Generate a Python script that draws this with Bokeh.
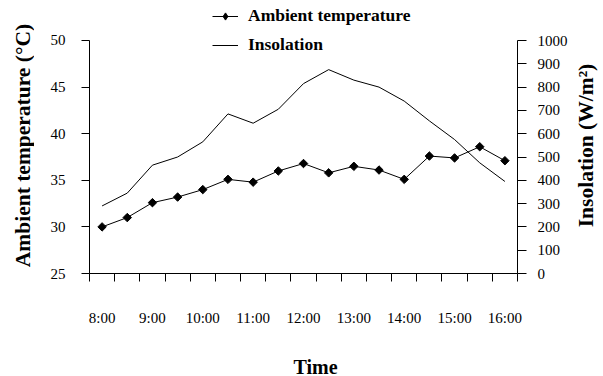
import math
from bokeh.plotting import figure
from bokeh.models import (Range1d, LinearAxis, FixedTicker, Legend, LegendItem, Label)
from bokeh.layouts import row, column
from bokeh.embed import file_html
from bokeh.resources import INLINE

# ---- data ----
hours = [8.0, 8.5, 9.0, 9.5, 10.0, 10.5, 11.0, 11.5, 12.0, 12.5,
         13.0, 13.5, 14.0, 14.5, 15.0, 15.5, 16.0]
ambient_temp = [30.0, 31.0, 32.6, 33.2, 34.0, 35.1, 34.8, 36.0, 36.8, 35.8,
                36.5, 36.1, 35.1, 37.6, 37.4, 38.6, 37.1]
insolation = [290, 345, 465, 500, 565, 685, 645, 705, 815, 875,
              830, 800, 740, 655, 575, 475, 395]
time_ticks = [8, 9, 10, 11, 12, 13, 14, 15, 16]
time_labels = ["8:00", "9:00", "10:00", "11:00", "12:00", "13:00", "14:00", "15:00", "16:00"]
temp_ticks = [25, 30, 35, 40, 45, 50]
insol_ticks = [0, 100, 200, 300, 400, 500, 600, 700, 800, 900, 1000]
left_title = "Ambient temperature (°C)"
right_title = "Insolation (W/m²)"
bottom_title = "Time"

FONT = "Liberation Serif"


def blank(w, h):
    f = figure(width=w, height=h, x_range=Range1d(0, 1), y_range=Range1d(0, 1),
               output_backend="svg", toolbar_location=None,
               min_border=0, x_axis_location=None, y_axis_location=None)
    f.xgrid.visible = False
    f.ygrid.visible = False
    f.outline_line_color = None
    f.background_fill_color = "white"
    f.border_fill_color = "white"
    return f


# main chart: the frame reaches the top of the canvas so the legend is not
# clipped; the axes are bounded to their value ranges.
p = figure(width=537, height=346,
           x_range=Range1d(7.75, 16.25), y_range=Range1d(25, 54.29),
           output_backend="svg", toolbar_location=None,
           min_border_left=55, min_border_right=54,
           min_border_top=0, min_border_bottom=73,
           x_axis_location=None, y_axis_location=None)
p.extra_y_ranges = {"insol": Range1d(0, 1171.7)}
p.xgrid.visible = False
p.ygrid.visible = False
p.outline_line_color = None
p.background_fill_color = "white"
p.border_fill_color = "white"

# x axis: labels at whole hours, tick marks at half-step boundaries
bounds = [h - 0.25 for h in hours] + [hours[-1] + 0.25]
xaxis = LinearAxis(ticker=FixedTicker(ticks=time_ticks, minor_ticks=bounds))
xaxis.major_label_overrides = {t: l for t, l in zip(time_ticks, time_labels)}
xaxis.major_tick_out = 0
xaxis.major_tick_in = 0
xaxis.minor_tick_out = 8
xaxis.minor_tick_in = 0
xaxis.minor_tick_line_color = "black"
xaxis.axis_line_color = "black"
xaxis.major_label_standoff = 28
xaxis.major_label_text_font = FONT
xaxis.major_label_text_font_size = "15px"
xaxis.major_label_text_color = "black"
p.add_layout(xaxis, "below")

# left axis
laxis = LinearAxis(ticker=FixedTicker(ticks=temp_ticks), bounds=(25, 50))
laxis.major_tick_out = 8
laxis.major_tick_in = 0
laxis.minor_tick_line_color = None
laxis.axis_line_color = "black"
laxis.major_tick_line_color = "black"
laxis.major_label_standoff = 16
laxis.major_label_text_font = FONT
laxis.major_label_text_font_size = "15px"
laxis.major_label_text_color = "black"
p.add_layout(laxis, "left")

# right axis
raxis = LinearAxis(y_range_name="insol", ticker=FixedTicker(ticks=insol_ticks), bounds=(0, 1000))
raxis.major_tick_out = 9
raxis.major_tick_in = 0
raxis.minor_tick_line_color = None
raxis.axis_line_color = "black"
raxis.major_tick_line_color = "black"
raxis.major_label_standoff = 11
raxis.major_label_text_font = FONT
raxis.major_label_text_font_size = "15px"
raxis.major_label_text_color = "black"
p.add_layout(raxis, "right")

# data
il = p.line(hours, insolation, y_range_name="insol", line_color="black", line_width=1)
tl = p.line(hours, ambient_temp, line_color="black", line_width=1)
ts = p.scatter(hours, ambient_temp, marker="square", angle=math.pi / 4, size=6,
               fill_color="black", line_color="black")
# swatch-only marker for the legend (no visible point)
lm = p.scatter(x=[float("nan")], y=[float("nan")], marker="diamond", size=9,
               fill_color="black", line_color="black")

legend = Legend(items=[LegendItem(label="Ambient temperature", renderers=[tl, lm]),
                       LegendItem(label="Insolation", renderers=[il])],
                location=(123, 218), orientation="vertical",
                padding=0, margin=0, spacing=8,
                glyph_width=26, glyph_height=18, label_height=18,
                label_standoff=10,
                label_text_font=FONT, label_text_font_style="bold",
                label_text_font_size="17.5px", label_text_color="black",
                border_line_color=None, background_fill_alpha=0)
p.add_layout(legend)

# axis titles in narrow side panels (their frames line up with the main frame,
# whose bottom is 273px from the top)
pl = blank(34, 346)
pl.add_layout(Label(x=22, y=128, x_units="screen", y_units="screen", text=left_title,
                    angle=math.pi / 2, text_align="center", text_baseline="middle",
                    text_font=FONT, text_font_style="bold", text_font_size="21.5px",
                    text_color="black"))
pr = blank(32, 346)
pr.add_layout(Label(x=14, y=128, x_units="screen", y_units="screen", text=right_title,
                    angle=math.pi / 2, text_align="center", text_baseline="middle",
                    text_font=FONT, text_font_style="bold", text_font_size="21.5px",
                    text_color="black"))
pb = blank(603, 30)
pb.add_layout(Label(x=315, y=10, x_units="screen", y_units="screen", text=bottom_title,
                    text_align="center", text_baseline="middle",
                    text_font=FONT, text_font_style="bold", text_font_size="20px",
                    text_color="black"))

layout = column(row(pl, p, pr, spacing=0), pb, spacing=0)

open("out.html", "w").write(file_html(layout, INLINE))
